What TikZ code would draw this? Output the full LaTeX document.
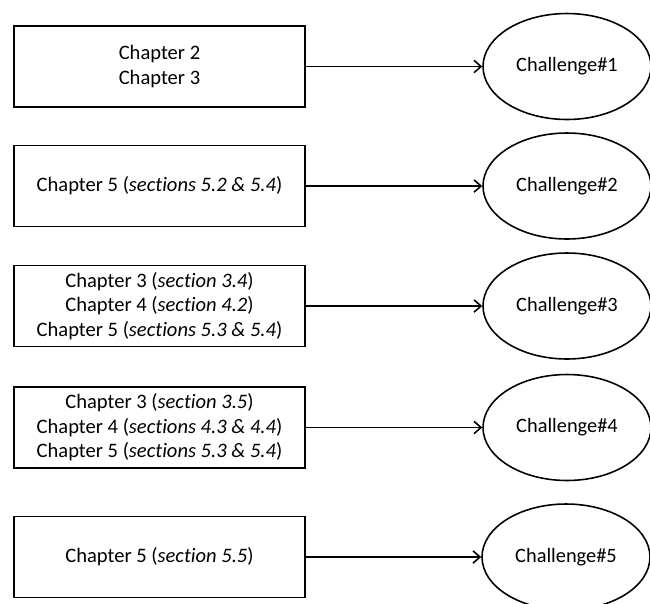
\documentclass[tikz,border=0pt]{standalone}
\usepackage{fontspec}
\setmainfont{Carlito}[Ligatures=NoCommon]
\usetikzlibrary{shapes.geometric,arrows.meta}
\begin{document}
\begin{tikzpicture}[x=0.02cm,y=-0.02cm,
  chapbox/.style={draw, line width=1.1pt, rectangle, minimum width=5.82cm,
    minimum height=1.62cm, inner sep=0pt, align=center,
    font=\fontsize{11.7}{13.9}\selectfont},
  challenge/.style={draw, line width=0.9pt, ellipse, minimum width=3.36cm,
    minimum height=2.12cm, inner sep=0pt,
    font=\fontsize{11.6}{13.9}\selectfont},
  link/.style={line width=0.9pt, -{Straight Barb[length=4pt,width=7pt]}}]
  \useasboundingbox (0,0) rectangle (650,603);

  % chapter boxes on the left
  \node[chapbox] (b1) at (159.5,66.5) {Chapter 2\\Chapter 3};
  \node[chapbox] (b2) at (159.5,186) {Chapter 5 (\textit{sections 5.2 \& 5.4})};
  \node[chapbox] (b3) at (159.5,306) {Chapter 3 (\textit{section 3.4})\\Chapter 4 (\textit{section 4.2})\\Chapter 5 (\textit{sections 5.3 \& 5.4})};
  \node[chapbox] (b4) at (159.5,427.5) {Chapter 3 (\textit{section 3.5})\\Chapter 4 (\textit{sections 4.3 \& 4.4})\\Chapter 5 (\textit{sections 5.3 \& 5.4})};
  \node[chapbox] (b5) at (159.5,557) {Chapter 5 (\textit{section 5.5})};

  % challenges on the right
  \node[challenge] (c1) at (567,66.5) {Challenge\#1};
  \node[challenge] (c2) at (567,186) {Challenge\#2};
  \node[challenge] (c3) at (567,306) {Challenge\#3};
  \node[challenge] (c4) at (567,427.5) {Challenge\#4};
  \node[challenge] (c5) at (566,557) {Challenge\#5};

  % links from chapters to challenges
  \foreach \i in {1,...,5}
    \draw[link] (b\i.east) -- (c\i.west);
\end{tikzpicture}
\end{document}
